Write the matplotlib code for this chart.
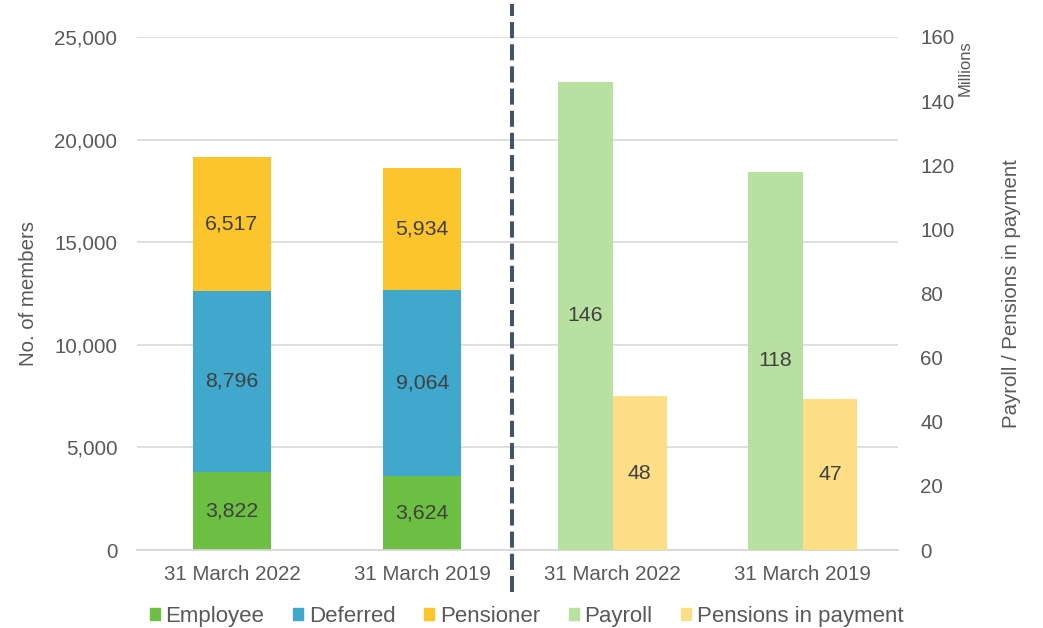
import matplotlib
matplotlib.use("Agg")
import matplotlib.pyplot as plt
from matplotlib.lines import Line2D
from matplotlib.patches import Patch
import numpy as np

plt.rcParams['font.family'] = ['Liberation Sans', 'DejaVu Sans']

# Data
member_dates = ["31 March 2022", "31 March 2019"]
employee = [3822, 3624]
deferred = [8796, 9064]
pensioner = [6517, 5934]

money_dates = ["31 March 2022", "31 March 2019"]
payroll = [146, 118]
pensions_in_payment = [48, 47]

tick_labels = member_dates + money_dates

c_emp = "#6cbf42"
c_def = "#3fa8cc"
c_pen = "#fcc52d"
c_pay = "#b8e0a0"
c_pip = "#fddd86"
grid_c = "#d9d9d9"
tick_c = "#595959"
lab_c = "#404040"

FS = 14.8

fig = plt.figure(figsize=(10.43, 6.28), dpi=100)
ax = fig.add_axes([0.1311, 0.1242, 0.7299, 0.8169])
ax2 = ax.twinx()

x_mem = np.arange(len(member_dates))
x_mon = np.arange(len(money_dates)) + len(member_dates)

w_stack = 0.41
ax.bar(x_mem, employee, w_stack, color=c_emp, zorder=3)
ax.bar(x_mem, deferred, w_stack, bottom=employee, color=c_def, zorder=3)
bot2 = np.array(employee) + np.array(deferred)
ax.bar(x_mem, pensioner, w_stack, bottom=bot2, color=c_pen, zorder=3)

for i in range(len(member_dates)):
    ax.text(x_mem[i], employee[i] / 2, f"{employee[i]:,}", ha="center", va="center", fontsize=15.3, color=lab_c, zorder=4)
    ax.text(x_mem[i], employee[i] + deferred[i] / 2, f"{deferred[i]:,}", ha="center", va="center", fontsize=15.3, color=lab_c, zorder=4)
    ax.text(x_mem[i], bot2[i] + pensioner[i] / 2, f"{pensioner[i]:,}", ha="center", va="center", fontsize=15.3, color=lab_c, zorder=4)

w_side = 0.286
ax2.bar(x_mon - w_side / 2, payroll, w_side, color=c_pay, zorder=3)
ax2.bar(x_mon + w_side / 2, pensions_in_payment, w_side, color=c_pip, zorder=3)
for i in range(len(money_dates)):
    ax2.text(x_mon[i] - w_side / 2, payroll[i] / 2, f"{payroll[i]}", ha="center", va="center", fontsize=15.3, color=lab_c)
    ax2.text(x_mon[i] + w_side / 2, pensions_in_payment[i] / 2, f"{pensions_in_payment[i]}", ha="center", va="center", fontsize=15.3, color=lab_c)

ax.set_xlim(-0.5, 3.5)
ax.set_ylim(0, 25000)
ax2.set_ylim(0, 160)
ax.set_yticks(np.arange(0, 25001, 5000))
ax.set_yticklabels([f"{v:,}" for v in range(0, 25001, 5000)])
ax2.set_yticks(np.arange(0, 161, 20))

ax.set_xticks(np.arange(4))
ax.set_xticklabels(tick_labels)

ax.grid(axis="y", color=grid_c, linewidth=1.2, zorder=0)
ax.set_axisbelow(True)
for a in (ax, ax2):
    for s in ("top", "left", "right"):
        a.spines[s].set_visible(False)
    a.spines["bottom"].set_color(grid_c)
    a.spines["bottom"].set_linewidth(1.2)
    a.tick_params(length=0, colors=tick_c, labelsize=FS)
ax.tick_params(axis="y", pad=14)
ax.tick_params(axis="x", pad=11)
ax2.tick_params(axis="y", pad=16)

ax.set_ylabel("No. of members", fontsize=14.7, color=tick_c, labelpad=12)
ax2.set_ylabel("Payroll / Pensions in payment", fontsize=14.7, color=tick_c, labelpad=34)
fig.text(0.925, 0.892, "Millions", rotation=90, ha="center", va="center", fontsize=12, color=tick_c)

# dashed divider
xdiv = 1.47
xf = fig.transFigure.inverted().transform(ax.transData.transform((xdiv, 0)))[0]
fig.add_artist(Line2D([xf, xf], [1 - 592 / 628, 1 - 4 / 628], transform=fig.transFigure,
                      color="#44546a", linewidth=2.9, dashes=(4, 1.5)))

handles = [Patch(color=c) for c in (c_emp, c_def, c_pen, c_pay, c_pip)]
labels = ["Employee", "Deferred", "Pensioner", "Payroll", "Pensions in payment"]
fig.legend(handles, labels, loc="center", bbox_to_anchor=(0.505, 0.018), ncol=5, frameon=False,
           fontsize=16, handlelength=0.45, handleheight=0.45, handletextpad=0.25, columnspacing=1.3,
           labelcolor=tick_c)

fig.savefig("out.png", dpi=100)
